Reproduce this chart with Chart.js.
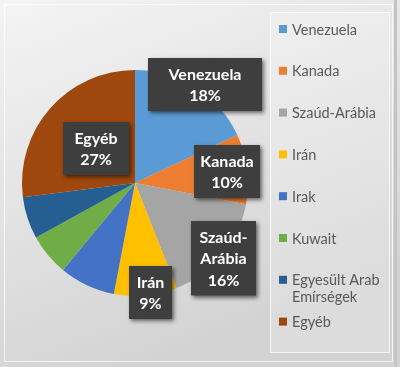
<!DOCTYPE html>
<html>
<head>
<meta charset="utf-8">
<script src="https://cdn.jsdelivr.net/npm/chart.js@4/dist/chart.umd.min.js"></script>
<style>
html,body{margin:0;padding:0;background:#fff;}
#wrap{position:relative;width:400px;height:367px;}
canvas{display:block;}
</style>
</head>
<body>
<div id="wrap"><canvas id="c" width="400" height="367"></canvas></div>
<script>
// ---- data ----
const categories = ['Venezuela', 'Kanada', 'Szaúd-Arábia', 'Irán', 'Irak', 'Kuwait', 'Egyesült Arab Emírségek', 'Egyéb'];
const shares = [18, 10, 16, 9, 8, 6, 6, 27];
const labelLines = [['Venezuela'], ['Kanada'], ['Szaúd-', 'Arábia'], ['Irán'], null, null, null, ['Egyéb']];

// ---- styles ----
const colors = ['#5b9bd5', '#ed7d31', '#a5a5a5', '#ffc000', '#4472c4', '#70ad47', '#255e91', '#9e480e'];
const labelRadius = [1.073, 0.82, 1.03, 0.98, 0, 0, 0, 0.46];
const labelAngleShift = [2.9, 0, 1.0, -2.6, 0, 0, 0, 0];
const labelBoxWidth = [114, 66, 65, 43, 0, 0, 0, 66];
const FONT = 'Lato, "Open Sans", sans-serif';

const bgPlugin = {
  id: 'bg',
  beforeDraw(chart) {
    const ctx = chart.ctx, w = chart.width, h = chart.height;
    ctx.save();
    const g = ctx.createLinearGradient(0, 0, w * 0.35, h);
    g.addColorStop(0, '#f4f4f4');
    g.addColorStop(1, '#d3d3d3');
    ctx.fillStyle = g;
    ctx.fillRect(0, 0, w, h);
    ctx.strokeStyle = '#c4c4c4';
    ctx.lineWidth = 3;
    ctx.strokeRect(395.5, -2, 10, h + 4);
    ctx.strokeStyle = 'rgba(255,255,255,0.7)';
    ctx.lineWidth = 1;
    ctx.strokeRect(4.5, 4.5, w - 12, h - 10);
    ctx.fillStyle = 'rgba(255,255,255,0.22)';
    ctx.fillRect(270, 12, 119, 340);
    ctx.strokeStyle = 'rgba(255,255,255,0.75)';
    ctx.strokeRect(270.5, 12.5, 119, 340);
    ctx.restore();
  }
};

const labelPlugin = {
  id: 'boxLabels',
  afterDatasetsDraw(chart) {
    const ctx = chart.ctx;
    const meta = chart.getDatasetMeta(0);
    const total = shares.reduce((a, b) => a + b, 0);
    ctx.save();
    ctx.font = 'bold 16px ' + FONT;
    meta.data.forEach((arc, i) => {
      if (!labelLines[i]) return;
      const p = arc.getProps(['x', 'y', 'startAngle', 'endAngle', 'outerRadius'], true);
      const mid = (p.startAngle + p.endAngle) / 2 + labelAngleShift[i] * Math.PI / 180;
      const r = p.outerRadius * labelRadius[i];
      const cx = p.x + Math.cos(mid) * r;
      const cy = p.y + Math.sin(mid) * r;
      const lines = labelLines[i].concat([Math.round(shares[i] / total * 100) + '%']);
      const lh = 21.5;
      let tw = 0;
      lines.forEach(l => tw = Math.max(tw, ctx.measureText(l).width));
      const bw = Math.max(labelBoxWidth[i], tw + 10);
      const bh = lines.length * lh + 10;
      const bx = Math.round(cx - bw / 2), by = Math.round(cy - bh / 2);
      ctx.save();
      ctx.shadowColor = 'rgba(0,0,0,0.55)';
      ctx.shadowBlur = 4;
      ctx.shadowOffsetX = 2;
      ctx.shadowOffsetY = 2;
      ctx.fillStyle = '#3e3e3e';
      ctx.fillRect(bx, by, bw, bh);
      ctx.restore();
      ctx.fillStyle = '#ffffff';
      ctx.textAlign = 'center';
      ctx.textBaseline = 'middle';
      lines.forEach((l, k) => {
        ctx.fillText(l, bx + bw / 2, by + 5 + lh * (k + 0.5) + 1);
      });
    });
    ctx.restore();
  }
};

const legendPlugin = {
  id: 'sideLegend',
  afterDraw(chart) {
    const ctx = chart.ctx;
    ctx.save();
    ctx.font = '14.5px ' + FONT;
    ctx.textBaseline = 'middle';
    ctx.textAlign = 'left';
    const x0 = 279, tx = 292, maxW = 94, step = 41.8, y0 = 29;
    categories.forEach((name, i) => {
      const y = y0 + i * step;
      ctx.fillStyle = colors[i];
      ctx.fillRect(x0, y - 4, 8, 8);
      ctx.fillStyle = '#595959';
      const words = name.split(' ');
      const rows = [];
      let cur = '';
      words.forEach(w => {
        const t = cur ? cur + ' ' + w : w;
        if (ctx.measureText(t).width > maxW && cur) { rows.push(cur); cur = w; } else cur = t;
      });
      rows.push(cur);
      rows.forEach((row, k) => ctx.fillText(row, tx, y + k * 17 + 1));
    });
    ctx.restore();
  }
};

new Chart(document.getElementById('c'), {
  type: 'pie',
  data: {
    labels: categories,
    datasets: [{
      data: shares,
      backgroundColor: colors,
      borderWidth: 0
    }]
  },
  options: {
    responsive: false,
    animation: false,
    layout: { padding: { left: 22, right: 152, top: 70, bottom: 71 } },
    plugins: {
      legend: { display: false },
      tooltip: { enabled: false }
    }
  },
  plugins: [bgPlugin, labelPlugin, legendPlugin]
});
</script>
</body>
</html>
